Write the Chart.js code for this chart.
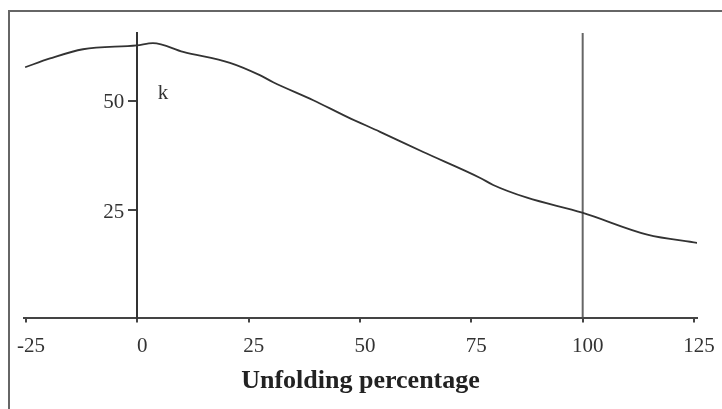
<!DOCTYPE html>
<html>
<head>
<meta charset="utf-8">
<script src="https://cdn.jsdelivr.net/npm/chart.js@4"></script>
<style>
  html, body { margin: 0; padding: 0; background: #fff; }
  #wrap { position: relative; width: 722px; height: 409px; }
  #frame { position: absolute; left: 8px; top: 10px; right: 0; bottom: 0;
           border-top: 2px solid #666; border-left: 2px solid #666; }
  canvas { position: absolute; left: 0; top: 0; }
</style>
</head>
<body>
<div id="wrap">
  <div id="frame"></div>
  <canvas id="myChart" width="722" height="409"></canvas>
</div>
<script>
// curve
const xs = [-25.2, -19.6, -12.2, -0.1, 3.5, 10.3, 20.8, 27.5, 30.5, 39.5, 47.1, 54.5, 64.2, 77.0, 79.9, 87.5, 99.9, 114.5, 125.7];
const ys = [57.6, 59.6, 61.7, 62.6, 63.1, 61.1, 58.6, 55.8, 54.2, 50.1, 46.3, 42.9, 38.3, 32.4, 30.8, 27.9, 24.5, 19.5, 17.6];

const xTicks = [-25, 0, 25, 50, 75, 100, 125];
const yTicks = [25, 50];
const markerX = 100;
const kLabel = { text: 'k', x: 4.6, y: 50.4 };

const xMin = -25.45, xMax = 125.67;
const yMin = 0.6, yMax = 65.4;

const serif = '"Liberation Serif", "Times New Roman", serif';

// y tick labels (left of the axis at x = 0) and the "k" label
const labelPlugin = {
  id: 'extraLabels',
  afterDatasetsDraw(chart) {
    const ctx = chart.ctx;
    const xs0 = chart.scales.x.getPixelForValue(0);
    ctx.save();
    ctx.font = '21px ' + serif;
    ctx.fillStyle = '#333';
    ctx.textAlign = 'right';
    ctx.textBaseline = 'middle';
    yTicks.forEach(v => {
      ctx.fillText(String(v), xs0 - 13, chart.scales.y.getPixelForValue(v) + 2);
    });
    ctx.textAlign = 'left';
    ctx.textBaseline = 'alphabetic';
    ctx.fillText(kLabel.text, chart.scales.x.getPixelForValue(kLabel.x), chart.scales.y.getPixelForValue(kLabel.y));
    ctx.restore();
  }
};

const ctx = document.getElementById('myChart').getContext('2d');
new Chart(ctx, {
  type: 'line',
  data: {
    datasets: [{
      data: xs.map((x, i) => ({ x: x, y: ys[i] })),
      borderColor: '#333',
      borderWidth: 1.8,
      pointRadius: 0,
      cubicInterpolationMode: 'monotone',
      fill: false
    }, {
      // vertical line at 100 %
      data: [{ x: markerX, y: yMin }, { x: markerX, y: yMax }],
      borderColor: '#666',
      borderWidth: 2,
      pointRadius: 0,
      fill: false
    }]
  },
  options: {
    responsive: false,
    animation: false,
    layout: { padding: { left: 24, right: 25, top: 33, bottom: 12 } },
    scales: {
      x: {
        type: 'linear',
        min: xMin,
        max: xMax,
        afterBuildTicks: axis => { axis.ticks = xTicks.map(v => ({ value: v })); },
        grid: { drawOnChartArea: false, drawTicks: true, tickLength: 5, color: '#444', lineWidth: 2 },
        border: { display: true, color: '#444', width: 2 },
        ticks: { color: '#333', font: { family: serif, size: 21 }, padding: 11, labelOffset: 5, maxRotation: 0 },
        title: {
          display: true,
          text: 'Unfolding percentage',
          color: '#222',
          font: { family: serif, size: 26, weight: 'bold' },
          padding: { top: -4, bottom: 0 }
        }
      },
      y: {
        type: 'linear',
        position: { x: 0 },
        min: yMin,
        max: yMax,
        afterBuildTicks: axis => { axis.ticks = yTicks.map(v => ({ value: v })); },
        grid: { drawOnChartArea: false, drawTicks: true, tickLength: 8, color: '#444', lineWidth: 2 },
        border: { display: true, color: '#333', width: 2 },
        ticks: { display: false }
      }
    },
    plugins: {
      legend: { display: false },
      tooltip: { enabled: false }
    }
  },
  plugins: [labelPlugin]
});
</script>
</body>
</html>
